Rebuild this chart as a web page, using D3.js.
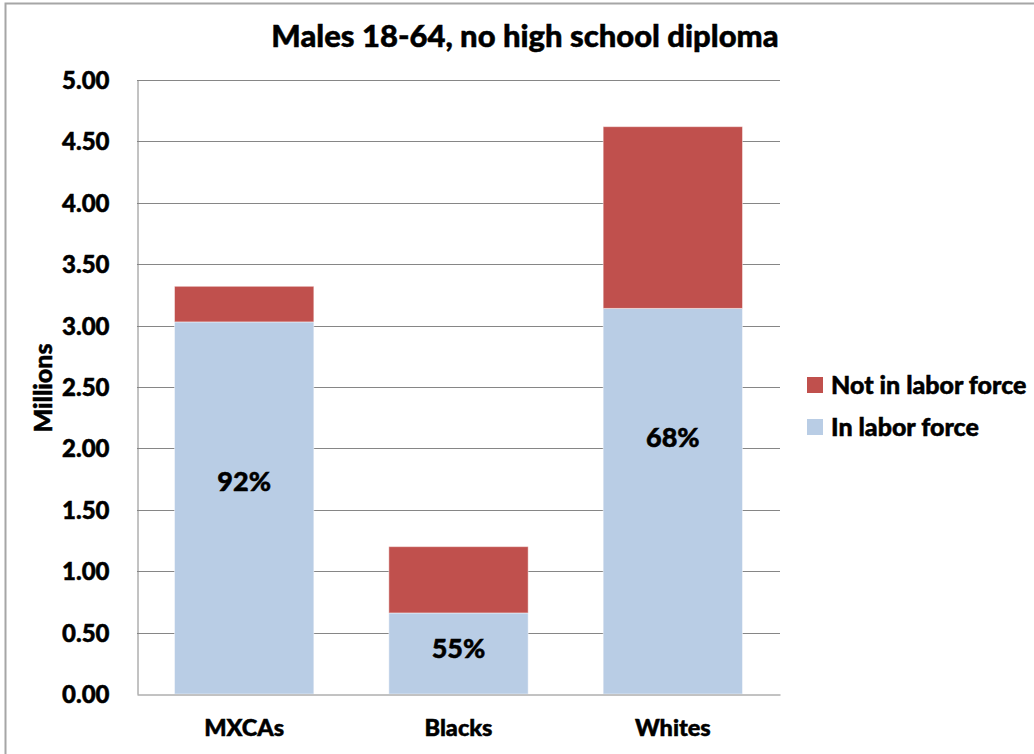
<!DOCTYPE html>
<html>
<head>
<meta charset="utf-8">
<script src="https://cdn.jsdelivr.net/npm/d3@7"></script>
<style>
  html, body { margin: 0; padding: 0; background: #fff; }
  svg text { font-family: Lato, "Open Sans", "Liberation Sans", sans-serif; font-weight: 900; fill: #000; stroke: #000; stroke-width: 0.5px; }
</style>
</head>
<body>
<svg id="chart" width="1034" height="754"></svg>
<script>
// Males 18-64 without a high school diploma, in millions
const categories = ["MXCAs", "Blacks", "Whites"];
const inLaborForce = [3.03, 0.66, 3.14];
const notInLaborForce = [0.29, 0.54, 1.48];
const shareLabels = ["92%", "55%", "68%"];
// height (millions) at which each share label sits inside its bar
const shareLabelLevels = [1.73, 0.37, 2.09];
const yTicks = [0, 0.5, 1, 1.5, 2, 2.5, 3, 3.5, 4, 4.5, 5];
const seriesNames = ["Not in labor force", "In labor force"];
const seriesColors = { "In labor force": "#B9CDE5", "Not in labor force": "#C0504D" };

const svg = d3.select("#chart");
const margin = { left: 137, right: 254, top: 80, bottom: 60 };
const W = 1034, H = 754;
const plotRight = W - margin.right;
const plotBottom = H - margin.bottom;

// outer frame
svg.append("rect")
  .attr("x", 5.5).attr("y", 3.5)
  .attr("width", 1050).attr("height", 800)
  .attr("fill", "none").attr("stroke", "#a6a6a6").attr("stroke-width", 2);

const x = d3.scaleBand()
  .domain(categories)
  .range([margin.left, plotRight])
  .paddingInner(0.35)
  .paddingOuter(0.175);

const y = d3.scaleLinear()
  .domain([0, 5])
  .range([plotBottom, margin.top]);

// gridlines
svg.append("g")
  .selectAll("line")
  .data(yTicks.filter(d => d > 0))
  .join("line")
  .attr("x1", margin.left).attr("x2", plotRight)
  .attr("y1", d => Math.round(y(d)) + 0.5).attr("y2", d => Math.round(y(d)) + 0.5)
  .attr("stroke", "#868686").attr("stroke-width", 1);

// stacked data
const rows = categories.map((c, i) => ({
  category: c,
  "In labor force": inLaborForce[i],
  "Not in labor force": notInLaborForce[i]
}));
const stack = d3.stack().keys(["In labor force", "Not in labor force"]);
const layers = stack(rows);

svg.append("g")
  .selectAll("g")
  .data(layers)
  .join("g")
  .attr("fill", d => seriesColors[d.key])
  .selectAll("rect")
  .data(d => d)
  .join("rect")
  .attr("x", d => x(d.data.category))
  .attr("width", x.bandwidth())
  .attr("y", d => y(d[1]))
  .attr("height", d => y(d[0]) - y(d[1]))
  .attr("stroke", "rgba(255,255,255,0.45)")
  .attr("stroke-width", 1);

// axes
const yAxis = d3.axisLeft(y).tickValues(yTicks).tickFormat(d3.format(".2f")).tickSize(0).tickPadding(28);
const gy = svg.append("g").attr("transform", `translate(${margin.left + 0.5},0)`).call(yAxis);
gy.select(".domain").attr("stroke", "#868686");
gy.selectAll("text").attr("font-size", 24).attr("font-family", null).attr("dy", "0.35em");

const xAxis = d3.axisBottom(x).tickSize(0).tickPadding(25);
const gx = svg.append("g").attr("transform", `translate(0,${Math.round(plotBottom) + 0.5})`).call(xAxis);
gx.select(".domain").attr("stroke", "#868686");
gx.selectAll("text").attr("font-size", 23.5).attr("font-family", null).attr("dy", "0.71em");

// share labels
svg.append("g")
  .selectAll("text")
  .data(categories)
  .join("text")
  .attr("x", d => x(d) + x.bandwidth() / 2)
  .attr("y", (d, i) => y(shareLabelLevels[i]))
  .attr("dy", "0.35em")
  .attr("text-anchor", "middle")
  .attr("font-size", 27)
  .text((d, i) => shareLabels[i]);

// title
svg.append("text")
  .attr("x", 525).attr("y", 47)
  .attr("text-anchor", "middle")
  .attr("font-size", 31)
  .text("Males 18-64, no high school diploma");

// y axis title
svg.append("text")
  .attr("transform", "translate(43,388) rotate(-90)")
  .attr("dy", "0.35em")
  .attr("text-anchor", "middle")
  .attr("font-size", 25)
  .text("Millions");

// legend
const legend = svg.append("g").attr("transform", "translate(807,377)");
const li = legend.selectAll("g").data(seriesNames).join("g")
  .attr("transform", (d, i) => `translate(0,${i * 42})`);
li.append("rect").attr("width", 16).attr("height", 16).attr("fill", d => seriesColors[d]);
li.append("text").attr("x", 24).attr("y", 8).attr("dy", "0.35em")
  .attr("font-size", 25).text(d => d);
</script>
</body>
</html>
